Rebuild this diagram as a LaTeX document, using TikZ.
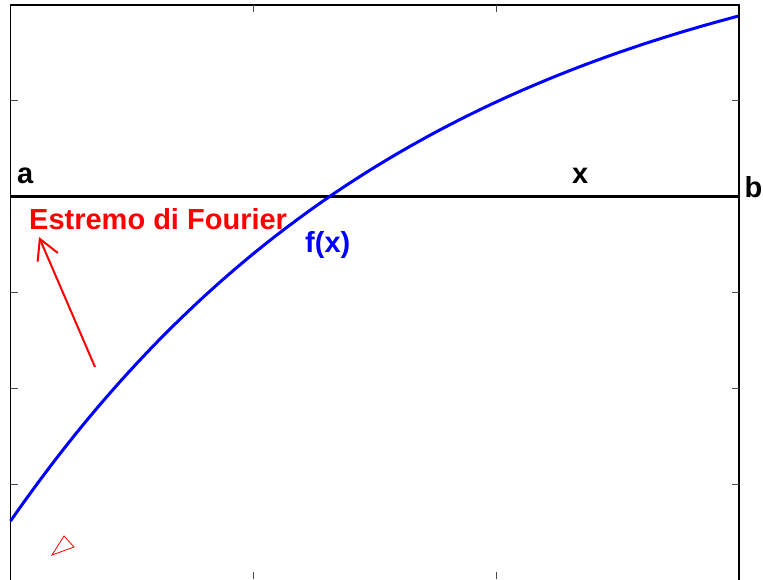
\documentclass[tikz,border=0pt]{standalone}
\usepackage{fontspec}
\setmainfont{Liberation Sans}
\usetikzlibrary{arrows.meta}
\begin{document}
\begin{tikzpicture}[x=1pt,y=-1pt,
  lbl/.style={font=\bfseries\fontsize{29}{33}\selectfont, inner sep=0pt, anchor=base west},
  tick/.style={draw=black!70, line width=1pt},
  frame/.style={draw=black, line width=1.2pt}]
\useasboundingbox (0,0) rectangle (763,579);
% frame
\draw[frame] (10.5,590) -- (10.5,5) -- (739,5) -- (739,590);
% ticks
\foreach \yy in {100,196,292,388,484}{
  \draw[tick] (10.5,\yy) -- (17.5,\yy);
  \draw[tick] (739,\yy) -- (732,\yy);
}
\foreach \xx in {253,496}{
  \draw[tick] (\xx,5) -- (\xx,12);
  \draw[tick] (\xx,579) -- (\xx,572);
}
% axis line a--b
\coordinate (A) at (10.5,196);
\coordinate (B) at (739,196);
\draw[black, line width=3pt] (A) -- (B);
% curve f(x)
\draw[blue, line width=3pt] plot[domain=0:1, samples=120] ({10.5+728.5*\x},{521-618*(1-exp(-1.7*\x))});
% labels
\node[lbl] (la) at (17,183) {a};
\node[lbl] (lx) at (572,183) {x};
\node[lbl] (lb) at (744.5,197) {b};
\node[lbl, text=blue] (lf) at (305,252) {f(x)};
\node[lbl, text=red] (le) at (29,229) {Estremo di Fourier};
% arrow
\coordinate (atail) at (95,367);
\coordinate (ahead) at (39,237);
\draw[red, line width=2pt, -{Straight Barb[length=20pt, width=22pt, line width=2pt]}] (atail) -- (ahead);
% small triangle
\coordinate (t1) at (64,536);
\coordinate (t2) at (74,547);
\coordinate (t3) at (52,555);
\draw[red, line width=0.8pt] (t1) -- (t2) -- (t3) -- cycle;
\end{tikzpicture}
\end{document}
